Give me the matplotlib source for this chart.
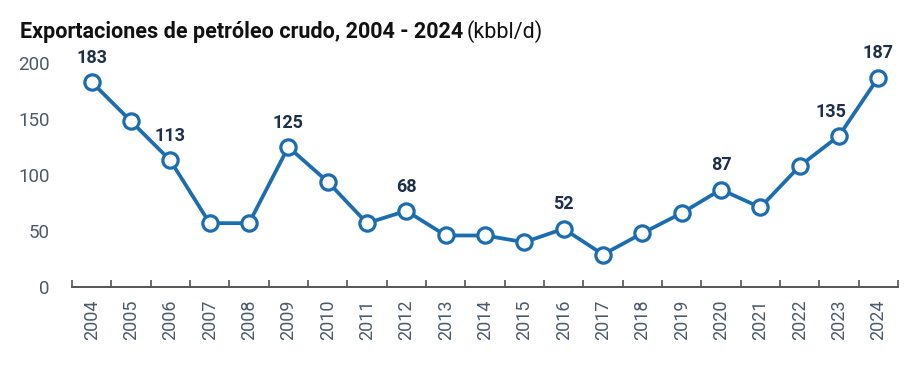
import matplotlib
matplotlib.use("Agg")
import matplotlib.pyplot as plt
import numpy as np

years = [str(y) for y in range(2004, 2025)]
values = [183, 148, 113, 57, 57, 125, 94, 57, 68, 46, 46, 40, 52, 29, 48, 66, 87, 71, 108, 135, 187]
labeled_years = ["2004", "2006", "2009", "2012", "2016", "2020", "2023", "2024"]
yticks = [0, 50, 100, 150, 200]

FONT = "Roboto"
plt.rcParams['font.family'] = [FONT, 'DejaVu Sans']

line_color = "#1b6db0"
label_color = "#1d2f49"
tick_color = "#4b5a6b"

fig = plt.figure(figsize=(9.21, 3.67), dpi=100)
W, H = 921, 367
ax = fig.add_axes([72 / W, (H - 287) / H, 826 / W, 224 / H])

x = np.arange(len(years))
ax.plot(x, values, color=line_color, lw=2.7, marker="o", markersize=11,
        markerfacecolor="white", markeredgecolor=line_color, markeredgewidth=2.3,
        clip_on=False, zorder=3)

for xi, yr, v in zip(x, years, values):
    if yr in labeled_years:
        dx = -6 if yr == "2023" else 0
        ax.annotate(str(v), (xi, v), xytext=(dx, 11), textcoords="offset points",
                    ha="center", va="bottom", fontsize=13, fontweight="bold",
                    color=label_color)

ax.set_xlim(-0.5, len(years) - 0.5)
ax.set_ylim(0, 200)
ax.set_yticks(yticks)
ax.set_yticklabels([str(t) for t in yticks], fontsize=13.5, color=tick_color)
ax.tick_params(axis="y", length=0, pad=16)

ax.set_xticks(np.arange(-0.5, len(years), 1.0))
ax.set_xticklabels([])
ax.tick_params(axis="x", which="major", direction="in", length=5, width=1.2, color="#555555")
ax.set_xticks(x, minor=True)
ax.set_xticklabels(years, minor=True, rotation=90, fontsize=13, color=tick_color)
ax.tick_params(axis="x", which="minor", length=0, pad=9)

for s in ["top", "right", "left"]:
    ax.spines[s].set_visible(False)
ax.spines["bottom"].set_color("#555555")
ax.spines["bottom"].set_linewidth(1.4)

t1 = fig.text(20 / W, 1 - 32 / H, "Exportaciones de petróleo crudo, 2004 - 2024", fontsize=15.5,
              fontweight="bold", color="#111111", va="center", ha="left")
fig.canvas.draw()
bb = t1.get_window_extent()
fig.text((bb.x1 + 3) / W, 1 - 32 / H, "(kbbl/d)", fontsize=15.5, color="#111111",
         va="center", ha="left")

fig.savefig("out.png", dpi=100)
